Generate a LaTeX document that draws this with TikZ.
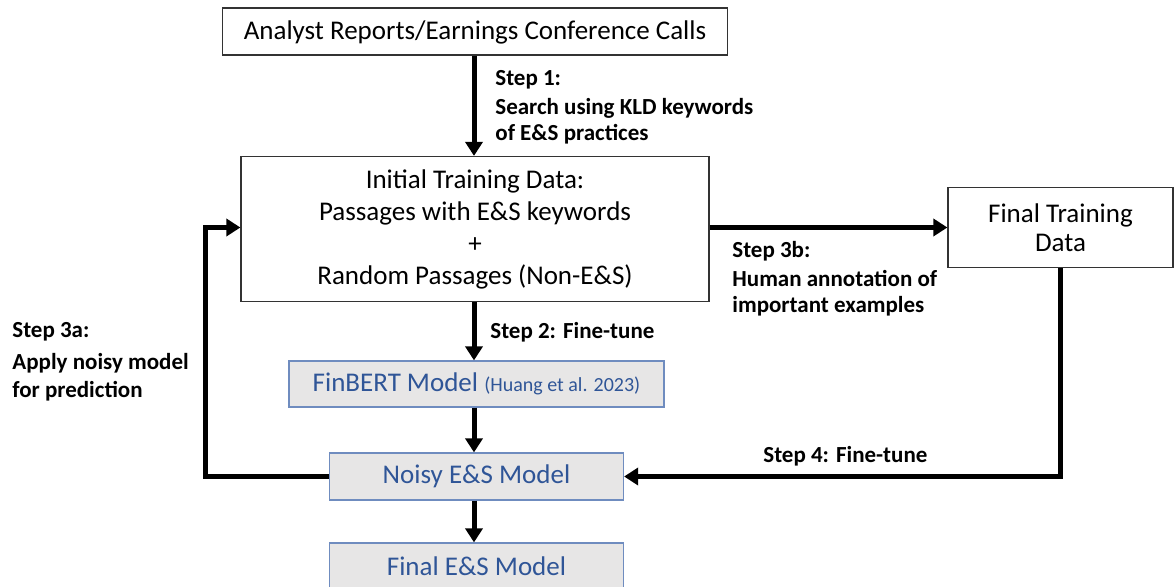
\documentclass[tikz,border=0pt]{standalone}
\usepackage{fontspec}
\setmainfont{Carlito}
\usepackage{xcolor}
\usetikzlibrary{positioning}
\usetikzlibrary{arrows.meta}
\definecolor{modelblue}{HTML}{2F5597}
\definecolor{modeledge}{HTML}{6F8CBF}
\definecolor{modelfill}{HTML}{E7E6E6}

\tikzset{
    plainbox/.style={draw=black!80,line width=0.6pt,fill=white,align=center,inner sep=0pt,font=\fontsize{13.5}{15.5}\selectfont},
    modelbox/.style={draw=modeledge,line width=0.6pt,fill=modelfill,text=modelblue,align=center,inner sep=0pt,font=\fontsize{13.5}{15.5}\selectfont},
    flow/.style={line width=2.5pt,-{Triangle[length=7pt,width=8.5pt]}},
    steplabel/.style={anchor=west,align=left,inner sep=0pt,font=\bfseries\fontsize{11.5}{13}\selectfont}
}

\begin{document}
\begin{tikzpicture}[x=0.5pt,y=-0.5pt]
        \useasboundingbox (0,0) rectangle (1174,587);

        % boxes
        \node[plainbox,minimum width=252.5pt,minimum height=23.5pt,text depth=1.5pt] (src) at (475,31.5) {Analyst Reports/Earnings Conference Calls};
        \node[plainbox,minimum width=234pt,minimum height=72.5pt,font=\fontsize{13.5}{16}\selectfont] (init) at (475,229) {Initial Training Data:\\Passages with E\&S keywords\\+\\Random Passages (Non-E\&S)};
        \node[plainbox,minimum width=112.5pt,minimum height=40pt,font=\fontsize{13.5}{14.5}\selectfont] (ftrain) at (1060.5,227.5) {Final Training\\Data};
        \node[modelbox,minimum width=187.5pt,minimum height=23pt] (finbert) at (476.5,384) {FinBERT Model {\fontsize{10}{12}\selectfont(Huang et al. 2023)}};
        \node[modelbox,minimum width=147pt,minimum height=23.5pt] (noisy) at (476.5,476.5) {Noisy E\&S Model};
        \node[modelbox,minimum width=147pt,minimum height=23.5pt] (final) at (476.5,566.5) {Final E\&S Model};

        % arrows
        \draw[flow] (src.south -| 474,0) -- (init.north -| 474,0);
        \draw[flow] (init.south -| 474,0) -- (finbert.north -| 474,0);
        \draw[flow] (finbert.south -| 474,0) -- (noisy.north -| 474,0);
        \draw[flow] (noisy.south -| 474,0) -- (final.north -| 474,0);
        \draw[flow] (init.east |- ftrain.west) -- (ftrain.west);
        \draw[flow] (noisy.west) -- ++(-123,0) |- (init.west |- ftrain.west);
        \draw[flow] (ftrain.south) |- (noisy.east);

        % step labels
        \node[steplabel] (s1) at (495,107) {Step 1:\\[1.5pt]Search using KLD keywords\\of E\&S practices};
        \node[steplabel] (s2) at (490,332) {Step 2: Fine-tune};
        \node[steplabel,font=\bfseries\fontsize{11.5}{14}\selectfont] (s3a) at (12,362) {Step 3a:\\[2pt]Apply noisy model\\for prediction};
        \node[steplabel] (s3b) at (732,279) {Step 3b:\\[1.5pt]Human annotation of\\important examples};
        \node[steplabel] (s4) at (763,456) {Step 4: Fine-tune};
\end{tikzpicture}
\end{document}
